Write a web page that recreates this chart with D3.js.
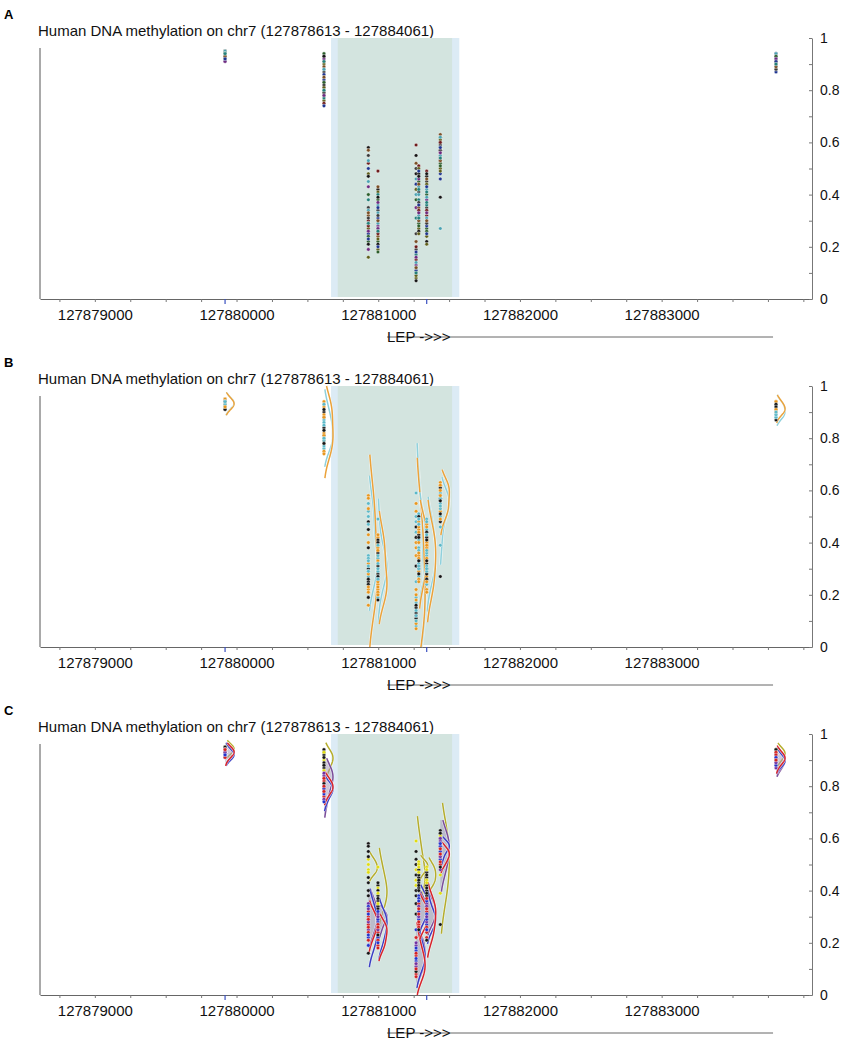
<!DOCTYPE html>
<html>
<head>
<meta charset="utf-8">
<script src="https://cdn.jsdelivr.net/npm/d3@7"></script>
<style>
  body { margin: 0; background: #fff; }
  svg text { font-family: "Liberation Sans", Arial, sans-serif; }
</style>
</head>
<body>
<svg id="chart" width="851" height="1041"></svg>
<script>
// region shown
const regionStart = 127878613, regionEnd = 127884061;
const titleText = "Human DNA methylation on chr7 (127878613 - 127884061)";
const panelLetters = ["A", "B", "C"];

// axis ticks
const xLabelTicks = [127879000, 127880000, 127881000, 127882000, 127883000];
const yTicks = [0, 0.1, 0.2, 0.3, 0.4, 0.5, 0.6, 0.7, 0.8, 0.9, 1];
const yLabelTicks = [0, 0.2, 0.4, 0.6, 0.8, 1];

// shaded intervals and marked sites
const shadeOuter = [127880667, 127881572];
const shadeInner = [127880714, 127881521];
const markedSites = [127879919, 127881342];
const gene = { name: "LEP ->>>", start: 127881062, end: 127883786 };

// CpG sites and beta values per sample (30 samples, same order at each site)
const sitePositions = [127879919, 127880617, 127880930, 127880998, 127881267,
                       127881286, 127881342, 127881438, 127883807];
const siteBeta = [
  [0.94,0.93,0.95,0.94,0.93,0.94,0.92,0.95,0.94,0.93,0.94,0.95, 0.93,0.92,0.94,0.93,0.91,0.93,0.92,0.94,0.93,0.92,0.93,0.94,0.92,0.93,0.91,0.93,0.92,0.94],
  [0.93,0.88,0.91,0.94,0.87,0.90,0.92,0.89,0.86,0.91,0.93,0.88, 0.80,0.78,0.83,0.76,0.81,0.79,0.84,0.77,0.82,0.80,0.75,0.83,0.79,0.81,0.78,0.85,0.74,0.80],
  [0.58,0.45,0.52,0.40,0.55,0.48,0.43,0.57,0.50,0.38,0.47,0.53, 0.30,0.22,0.35,0.27,0.19,0.32,0.25,0.29,0.21,0.34,0.28,0.24,0.31,0.16,0.26,0.33,0.23,0.29],
  [0.42,0.36,0.49,0.38,0.34,0.41,0.37,0.43,0.35,0.40,0.39,0.33, 0.26,0.22,0.30,0.19,0.28,0.24,0.31,0.27,0.21,0.29,0.25,0.18,0.32,0.23,0.27,0.30,0.20,0.26],
  [0.55,0.46,0.59,0.38,0.50,0.42,0.35,0.52,0.44,0.31,0.48,0.40, 0.15,0.10,0.19,0.08,0.13,0.22,0.11,0.17,0.07,0.14,0.20,0.12,0.25,0.09,0.16,0.12,0.18,0.10],
  [0.48,0.43,0.51,0.45,0.41,0.50,0.46,0.44,0.49,0.42,0.47,0.40, 0.33,0.29,0.36,0.27,0.31,0.35,0.30,0.38,0.26,0.32,0.34,0.28,0.37,0.25,0.33,0.30,0.36,0.31],
  [0.47,0.42,0.49,0.40,0.45,0.44,0.38,0.46,0.43,0.41,0.48,0.39, 0.32,0.27,0.35,0.24,0.30,0.33,0.28,0.36,0.22,0.31,0.34,0.26,0.29,0.21,0.33,0.30,0.25,0.37],
  [0.60,0.27,0.57,0.62,0.55,0.61,0.53,0.63,0.46,0.58,0.39,0.62, 0.56,0.52,0.59,0.50,0.57,0.54,0.48,0.58,0.53,0.55,0.60,0.51,0.57,0.49,0.56,0.53,0.58,0.54],
  [0.93,0.92,0.94,0.91,0.93,0.92,0.94,0.93,0.90,0.92,0.93,0.94, 0.91,0.89,0.92,0.88,0.90,0.91,0.87,0.92,0.90,0.89,0.91,0.93,0.88,0.90,0.92,0.89,0.91,0.90]
];

// sample groups for panel B (0 black, 1 orange, 2 teal) and C (0 black, 1 red, 2 blue, 3 yellow, 4 purple)
const groupB = [1,0,2,1,2,0,1,1,2,0, 2,1,0,1,2,2,0,1,0,2, 1,2,1,0,2,1,0,2,1,2];
const groupC = [0,0,3,0,0,3,0,0,3,0, 3,0,1,2,4,1,2,1,4,2, 1,2,4,1,2,0,1,4,2,1];

// styles
const sampleColorsA = ["#141414","#2b5e2b","#6e2a80","#23807a","#6e1c1c",
                       "#5e5e18","#1f3590","#4aa2b2","#3a3a3a","#7a4e24"];
const dotColorsB = ["#151515", "#e8961e", "#5bb8c8"];
const dotColorsC = ["#151515", "#d42020", "#2233cc", "#e0dc10", "#7030a0"];
const curvesB = [ // drawn in order
  { group: 2, stroke: "#8fd0dc", fill: null },
  { group: 1, stroke: "#eba23a", fill: null }
];
const curvesC = [
  { group: 3, stroke: "#b5ad2c", fill: null },
  { group: 4, stroke: "#7a4d9a", fill: "rgba(165,155,185,0.55)" },
  { group: 2, stroke: "#3b3fc4", fill: null },
  { group: 1, stroke: "#d8232a", fill: null }
];

const left = 40, right = 812;
const plotTop = 38, plotBottom = 299, panelStep = 348;

const svg = d3.select("#chart");
const x = d3.scaleLinear().domain([regionStart, regionEnd]).range([left, right]);
const y = d3.scaleLinear().domain([0, 1]).range([plotBottom, plotTop]);
const curveW = d3.scaleLinear().domain([0, 1]).range([0, 9]);
const xMinorTicks = d3.range(127878750, regionEnd, 250);

// gaussian kernel density, scaled to a peak of 1
function kde(values) {
  const n = values.length;
  const sd = d3.deviation(values) || 0.01;
  const h = Math.max(0.02, 1.2 * 1.06 * sd * Math.pow(n, -0.2));
  const lo = Math.max(0, d3.min(values) - 1.6 * h);
  const hi = Math.min(1, d3.max(values) + 1.3 * h);
  const pts = d3.range(0, 81).map(k => {
    const v = lo + (hi - lo) * k / 80;
    return [v, d3.sum(values, b => Math.exp(-0.5 * ((v - b) / h) ** 2))];
  });
  const m = d3.max(pts, p => p[1]);
  return pts.map(p => [p[0], p[1] / m]);
}

function drawPanel(k) {
  const g = svg.append("g").attr("transform", `translate(0,${k * panelStep})`);

  g.append("text").attr("x", 4).attr("y", 19)
    .attr("font-size", "13px").attr("font-weight", "bold").text(panelLetters[k]);
  g.append("text").attr("x", 38).attr("y", 36)
    .attr("font-size", "15px").attr("fill", "#111").text(titleText);

  // shaded intervals
  g.append("rect").attr("x", x(shadeOuter[0])).attr("y", plotTop)
    .attr("width", x(shadeOuter[1]) - x(shadeOuter[0])).attr("height", plotBottom - plotTop - 2)
    .attr("fill", "#dcebf5");
  g.append("rect").attr("x", x(shadeInner[0])).attr("y", plotTop)
    .attr("width", x(shadeInner[1]) - x(shadeInner[0])).attr("height", plotBottom - plotTop - 2)
    .attr("fill", "#d3e4df");

  // left border line
  g.append("line").attr("x1", left).attr("x2", left)
    .attr("y1", plotTop + 10).attr("y2", plotBottom)
    .attr("stroke", "#555").attr("stroke-width", 1);

  // bottom axis
  const xa = g.append("g").attr("transform", `translate(0,${plotBottom})`)
    .call(d3.axisBottom(x).tickValues(xMinorTicks).tickSize(3).tickSizeOuter(0).tickPadding(7)
      .tickFormat(d => xLabelTicks.includes(d) ? String(d) : ""));
  xa.select(".domain").attr("stroke", "#666");
  xa.selectAll(".tick line").attr("stroke", "#777");
  xa.selectAll("text").attr("font-size", "15px").attr("fill", "#111")
    .attr("font-family", "Liberation Sans, Arial, sans-serif");

  g.selectAll(".mark").data(markedSites).join("line")
    .attr("x1", d => x(d)).attr("x2", d => x(d))
    .attr("y1", plotBottom).attr("y2", plotBottom + 5)
    .attr("stroke", "#3a50c0").attr("stroke-width", 1.2);

  // right axis
  const ya = g.append("g").attr("transform", `translate(${right},0)`)
    .call(d3.axisRight(y).tickValues(yTicks).tickSizeInner(-3).tickSizeOuter(0).tickPadding(8)
      .tickFormat(d => yLabelTicks.includes(d) ? String(d) : ""));
  ya.select(".domain").attr("stroke", "#777");
  ya.selectAll(".tick line").attr("stroke", "#777");
  ya.selectAll("text").attr("font-size", "14px").attr("fill", "#111")
    .attr("font-family", "Liberation Sans, Arial, sans-serif");

  // gene track
  g.append("line").attr("x1", x(gene.start)).attr("x2", x(gene.end))
    .attr("y1", 337).attr("y2", 337).attr("stroke", "#666").attr("stroke-width", 1);
  g.append("text").attr("x", x(gene.start)).attr("y", 341.5)
    .attr("font-size", "15px").attr("fill", "#111").text(gene.name);

  // density curves
  const curves = k === 1 ? curvesB : k === 2 ? curvesC : [];
  const groups = k === 1 ? groupB : groupC;
  const cg = g.append("g");
  sitePositions.forEach((pos, s) => {
    const cx = x(pos);
    curves.forEach(c => {
      const vals = siteBeta[s].filter((v, i) => groups[i] === c.group);
      if (!vals.length) return;
      const dens = kde(vals);
      if (c.fill) {
        cg.append("path").datum(dens)
          .attr("d", d3.area().y(d => y(d[0])).x0(cx).x1(d => cx + curveW(d[1])))
          .attr("fill", c.fill);
      }
      const line = d3.line().y(d => y(d[0])).x(d => cx + curveW(d[1]));
      cg.append("path").datum(dens).attr("d", line)
        .attr("fill", "none").attr("stroke", "#fff").attr("stroke-opacity", 0.6).attr("stroke-width", 2.8);
      cg.append("path").datum(dens).attr("d", line)
        .attr("fill", "none").attr("stroke", c.stroke).attr("stroke-width", 1.5);
    });
  });

  // dots
  const dots = [];
  sitePositions.forEach((pos, s) => {
    siteBeta[s].forEach((v, i) => dots.push({ pos, v, i }));
  });
  g.append("g").selectAll("circle").data(dots).join("circle")
    .attr("cx", d => x(d.pos)).attr("cy", d => y(d.v)).attr("r", 1.8)
    .attr("fill", d => k === 0 ? sampleColorsA[(d.i * 7) % 10]
                     : k === 1 ? dotColorsB[groupB[d.i]] : dotColorsC[groupC[d.i]])
    .attr("stroke", "#fff").attr("stroke-width", 0.4);
}

[0, 1, 2].forEach(drawPanel);
</script>
</body>
</html>
